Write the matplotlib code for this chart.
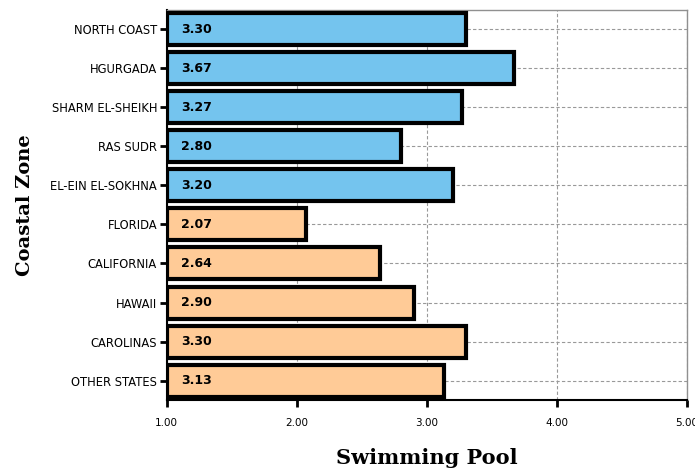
import matplotlib.pyplot as plt

zones = ["NORTH COAST", "HGURGADA", "SHARM EL-SHEIKH", "RAS SUDR", "EL-EIN EL-SOKHNA",
         "FLORIDA", "CALIFORNIA", "HAWAII", "CAROLINAS", "OTHER STATES"]
scores = [3.30, 3.67, 3.27, 2.80, 3.20, 2.07, 2.64, 2.90, 3.30, 3.13]
groups = ["egypt"] * 5 + ["usa"] * 5
xticks = [1.0, 2.0, 3.0, 4.0, 5.0]

colors = {"egypt": "#74c4ee", "usa": "#ffcb97"}

fig = plt.figure(figsize=(6.95, 4.69), dpi=100)
ax = fig.add_axes([0.240, 0.147, 0.748, 0.832])

ypos = list(range(len(zones)))
ax.barh(ypos, [s - 1.0 for s in scores], left=1.0, height=0.82,
        color=[colors[g] for g in groups], edgecolor="black", linewidth=3, zorder=3)

for y, s in zip(ypos, scores):
    ax.annotate("%.2f" % s, (1.0, y), xytext=(10, 0), textcoords="offset points",
                va="center", ha="left", fontsize=9, fontweight="bold", zorder=4)

ax.set_xlim(1.0, 5.0)
ax.set_ylim(len(zones) - 0.5, -0.5)
ax.set_yticks(ypos)
ax.set_yticklabels(zones, fontsize=8.3)
ax.set_xticks(xticks)
ax.set_xticklabels(["%.2f" % t for t in xticks], fontsize=7.5)

ax.grid(True, linestyle=(0, (3, 2)), color="#999999", linewidth=0.8, zorder=0)
ax.tick_params(axis="both", length=5, width=2, color="black")
ax.tick_params(axis="x", pad=8)
ax.tick_params(axis="y", pad=2)

for side in ["left", "bottom"]:
    ax.spines[side].set_linewidth(1.5)
    ax.spines[side].set_color("black")
for side in ["top", "right"]:
    ax.spines[side].set_linewidth(1)
    ax.spines[side].set_color("#909090")

ax.set_xlabel("Swimming Pool", family="serif", fontsize=15, fontweight="bold", labelpad=14)
ax.set_ylabel("Coastal Zone", family="serif", fontsize=14, fontweight="bold", labelpad=12)

fig.savefig("out.png", dpi=100)
